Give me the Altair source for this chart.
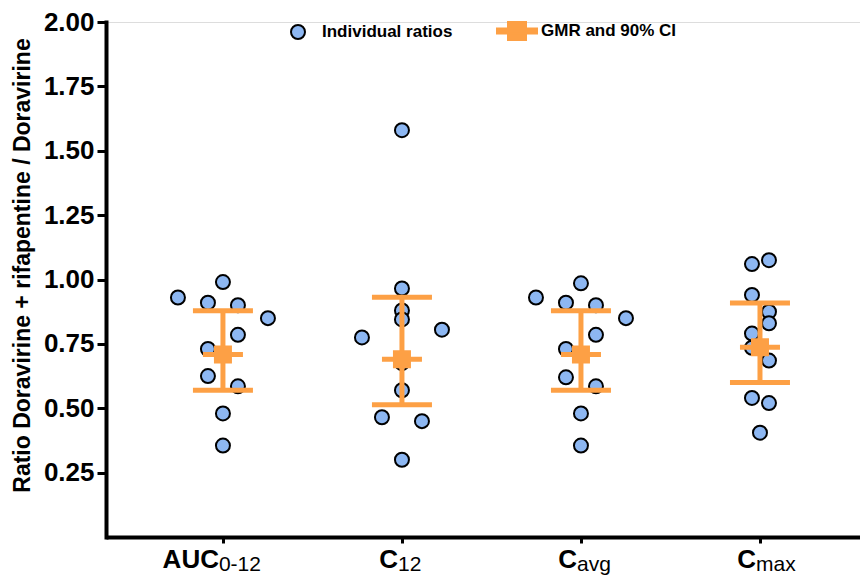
import altair as alt
import pandas as pd

# ---------------- data ----------------
categories = ["AUC0-12", "C12", "Cavg", "Cmax"]
label_main = ["AUC", "C", "C", "C"]
label_sub = ["0-12", "12", "avg", "max"]

auc_values = [0.99, 0.93, 0.91, 0.90, 0.85, 0.785, 0.73, 0.625, 0.585, 0.48, 0.355]
auc_spread = [0, -45, -15, 15, 45, 15, -15, -15, 15, 0, 0]

c12_values = [1.58, 0.965, 0.88, 0.845, 0.805, 0.775, 0.675, 0.57, 0.465, 0.45, 0.30]
c12_spread = [0, 0, 0, 0, 40, -40, 0, 0, -20, 20, 0]

cavg_values = [0.985, 0.93, 0.91, 0.90, 0.85, 0.785, 0.73, 0.62, 0.585, 0.48, 0.355]
cavg_spread = [0, -45, -15, 15, 45, 15, -15, -15, 15, 0, 0]

cmax_values = [1.075, 1.06, 0.94, 0.875, 0.83, 0.79, 0.735, 0.685, 0.54, 0.52, 0.405]
cmax_spread = [9, -8, -8, 9, 9, -8, -8, 9, -8, 9, 0]

gmr = [0.709, 0.690, 0.709, 0.737]
ci_lower = [0.570, 0.514, 0.570, 0.600]
ci_upper = [0.879, 0.931, 0.879, 0.909]

series_names = ["Individual ratios", "GMR and 90% CI"]
y_ticks = [0.25, 0.5, 0.75, 1.0, 1.25, 1.5, 1.75, 2.0]

# ---------------- tables ----------------
rows = []
for cat, vals, spr in zip(categories,
                          [auc_values, c12_values, cavg_values, cmax_values],
                          [auc_spread, c12_spread, cavg_spread, cmax_spread]):
    for v, s in zip(vals, spr):
        rows.append({"cat": cat, "value": v, "spread": s, "series": series_names[0]})
points_df = pd.DataFrame(rows)

summary_df = pd.DataFrame({
    "cat": categories, "value": gmr, "lower": ci_lower, "upper": ci_upper,
    "series": series_names[1], "main": label_main, "sub": label_sub,
})

# ---------------- styling ----------------
BLUE = "#8DB7F2"
ORANGE = "#FDA045"
FONT = "Liberation Sans"
W, H = 754, 515
SZ = 1600

circle_path = "M0.35,0A0.35,0.35,0,1,1,-0.35,0A0.35,0.35,0,1,1,0.35,0Z"
gmr_path = "M-1,-0.125H1V0.125H-1Z M-0.45,-0.45H0.45V0.45H-0.45Z"

x_enc = alt.X(
    "cat:N",
    scale=alt.Scale(type="point", domain=categories, padding=0.606, align=0.539),
    axis=alt.Axis(labels=False, title=None, grid=False, ticks=True, tickSize=6,
                  tickWidth=3, tickColor="black", domainWidth=4, domainColor="black"),
)
y_enc = alt.Y(
    "value:Q",
    scale=alt.Scale(domain=[0, 2], nice=False, zero=True),
    axis=alt.Axis(
        values=y_ticks, format=".2f", grid=False,
        labelFont=FONT, labelFontSize=26, labelFontWeight="bold", labelColor="black",
        labelPadding=3, tickSize=9, tickWidth=3, tickColor="black",
        domainWidth=4, domainColor="black", domainCap="square",
        title="Ratio Doravirine + rifapentine / Doravirine",
        titleFont=FONT, titleFontSize=23, titleFontWeight="bold", titleColor="black",
        titleX=-77, titleY=243, titleAngle=-90, titleBaseline="alphabetic", titleAlign="center",
    ),
)

legend = alt.Legend(
    title=None, orient="none", legendX=171, legendY=-12, direction="horizontal",
    labelFont=FONT, labelFontSize=17, labelFontWeight="bold", labelColor="black",
    symbolSize=SZ, symbolStrokeWidth=2, labelOffset=3, columnPadding=40, padding=0,
)
color_enc = alt.Color("series:N", scale=alt.Scale(domain=series_names, range=[BLUE, ORANGE]), legend=legend)
shape_enc = alt.Shape("series:N", scale=alt.Scale(domain=series_names, range=[circle_path, gmr_path]), legend=legend)
stroke_enc = alt.Stroke("series:N", scale=alt.Scale(domain=series_names, range=["#000000", ORANGE]), legend=legend)

points = alt.Chart(points_df).mark_point(filled=True, size=SZ, strokeWidth=2, opacity=1).encode(
    x=x_enc,
    xOffset=alt.XOffset("spread:Q", scale=alt.Scale(domain=[-50, 50], range=[-50, 50])),
    y=y_enc,
    color=color_enc, shape=shape_enc, stroke=stroke_enc,
)

ci_line = alt.Chart(summary_df).mark_rule(strokeWidth=5, color=ORANGE).encode(
    x="cat:N", y="lower:Q", y2="upper:Q",
)

caps = alt.Chart(summary_df).transform_fold(["lower", "upper"], as_=["bound", "level"]).mark_tick(
    size=60, thickness=5, color=ORANGE, opacity=1, orient="horizontal"
).encode(x="cat:N", y="level:Q")

gmr_mark = alt.Chart(summary_df).mark_point(filled=True, size=SZ, strokeWidth=0, opacity=1).encode(
    x="cat:N", y="value:Q",
    color=color_enc, shape=shape_enc, stroke=stroke_enc,
)

lab_main = alt.Chart(summary_df).mark_text(
    font=FONT, fontSize=26, fontWeight="bold", align="right", baseline="alphabetic", dx=-4, color="black"
).encode(x="cat:N", y=alt.value(H + 31), text="main:N")

lab_sub = alt.Chart(summary_df).mark_text(
    font=FONT, fontSize=21, fontWeight="normal", align="left", baseline="alphabetic", dx=-4, color="black"
).encode(x="cat:N", y=alt.value(H + 34), text="sub:N")

chart = alt.layer(points, ci_line, caps, gmr_mark, lab_main, lab_sub).properties(
    width=W, height=H,
    autosize=alt.AutoSizeParams(type="none"),
    padding={"left": 98, "top": 14, "right": 0, "bottom": 38},
).configure_view(stroke=None).configure(background="white")

chart.save("out.html", embed_options={"renderer": "svg", "actions": False})
